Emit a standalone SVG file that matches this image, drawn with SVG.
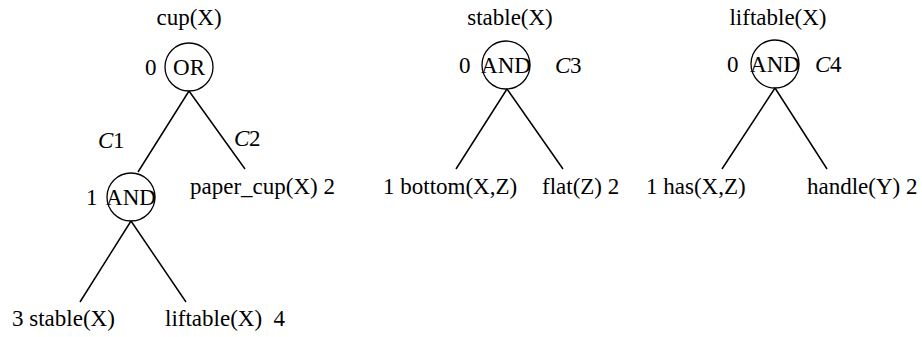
<svg xmlns="http://www.w3.org/2000/svg" width="922" height="337" viewBox="0 0 922 337">
  <style>
    text { font-family: "Liberation Serif", "Times New Roman", "DejaVu Serif", serif; font-size: 23px; fill: #000; }
    .mid { text-anchor: middle; }
    .it { font-style: italic; }
    .node { fill: none; stroke: #000; stroke-width: 1.3; }
    .edge { stroke: #000; stroke-width: 1.5; fill: none; }
  </style>

  <!-- tree for cup(X) -->
  <g id="cup">
    <text class="mid" x="189" y="25">cup(X)</text>
    <circle class="node" cx="189" cy="67" r="24"/>
    <text class="mid" x="189" y="75">OR</text>
    <text x="145" y="75">0</text>
  </g>
  <g id="cup-and">
    <circle class="node" cx="131" cy="197" r="24"/>
    <text class="mid" x="131" y="205">AND</text>
    <text x="86" y="205">1</text>
  </g>
  <g id="paper-cup">
    <text x="190" y="194">paper_cup(X) 2</text>
  </g>
  <g id="stable-leaf">
    <text x="12" y="326">3 stable(X)</text>
  </g>
  <g id="liftable-leaf">
    <text x="165" y="326" xml:space="preserve">liftable(X)  4</text>
  </g>

  <!-- tree for stable(X) -->
  <g id="stable">
    <text class="mid" x="510" y="25">stable(X)</text>
    <circle class="node" cx="506" cy="65" r="24"/>
    <text class="mid" x="506" y="73">AND</text>
    <text x="459" y="73">0</text>
    <text class="it" x="555" y="73">C</text><text x="570" y="73">3</text>
  </g>
  <g id="bottom">
    <text x="383" y="194">1 bottom(X,Z)</text>
  </g>
  <g id="flat">
    <text x="542" y="194">flat(Z) 2</text>
  </g>

  <!-- tree for liftable(X) -->
  <g id="liftable">
    <text class="mid" x="778" y="25">liftable(X)</text>
    <circle class="node" cx="775" cy="64" r="24"/>
    <text class="mid" x="775" y="72">AND</text>
    <text x="727" y="72">0</text>
    <text class="it" x="815" y="72">C</text><text x="830" y="72">4</text>
  </g>
  <g id="has">
    <text x="646" y="194">1 has(X,Z)</text>
  </g>
  <g id="handle">
    <text x="807" y="194">handle(Y) 2</text>
  </g>

  <!-- connectors and their labels -->
  <g id="connectors">
    <path class="edge" d="M189 91 L138 172 M189 91 L245 169"/>
    <path class="edge" d="M131 221 L80 302 M131 221 L186 302"/>
    <path class="edge" d="M507 89 L456 169 M507 89 L563 169"/>
    <path class="edge" d="M775 88 L722 169 M775 88 L827 169"/>
    <text class="it" x="98" y="148">C</text><text x="113" y="148">1</text>
    <text class="it" x="234" y="146">C</text><text x="249" y="146">2</text>
  </g>
</svg>
